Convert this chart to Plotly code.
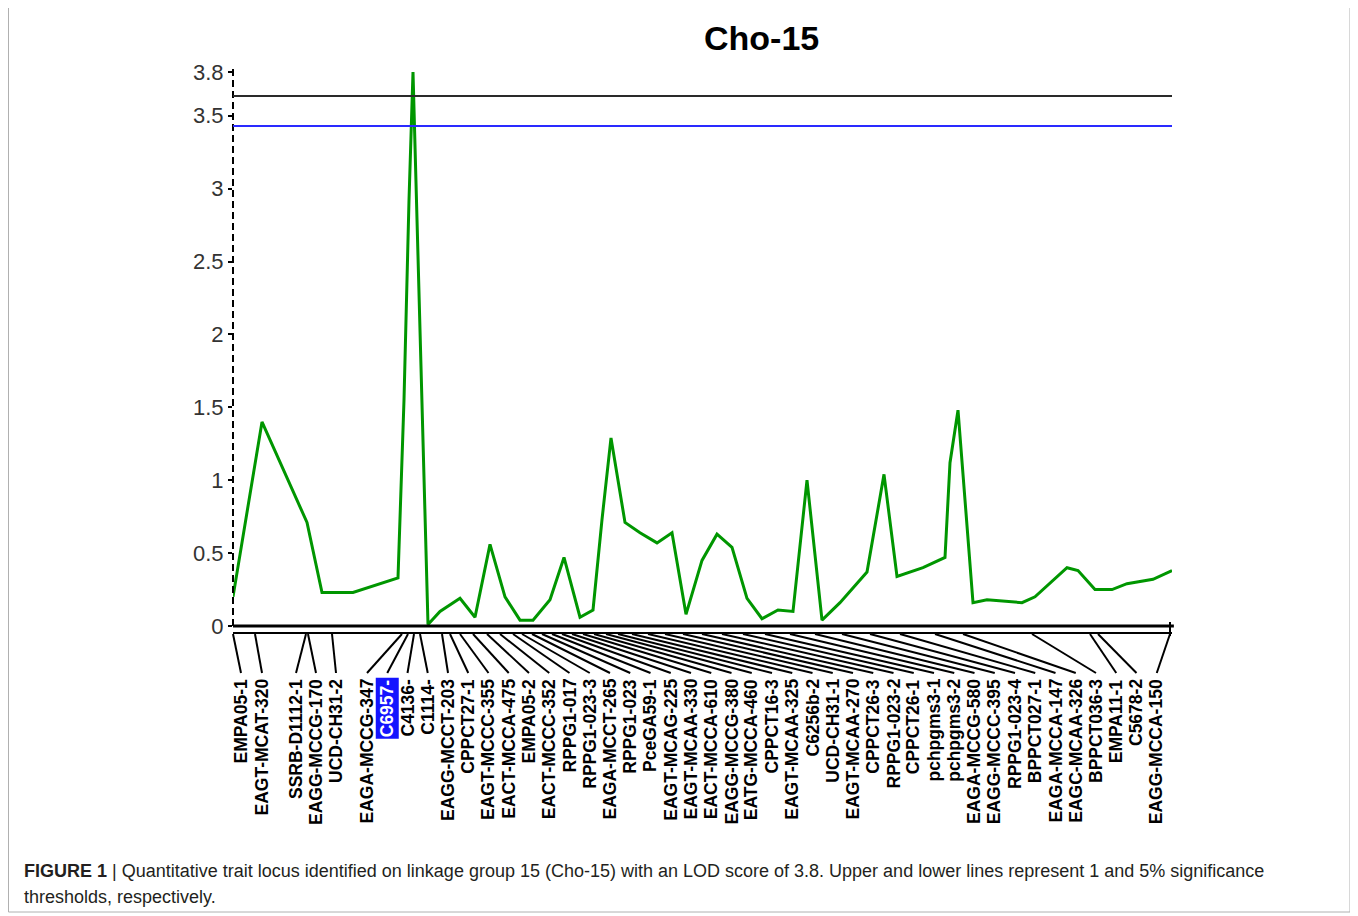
import plotly.graph_objects as go

# ---------------- data ----------------
# LOD profile along linkage group 15 (position in cM, LOD)
pos_cm = [0.0, 2.9, 7.4, 8.9, 12.0, 16.5, 17.1, 17.6, 18.0, 19.5, 20.7, 22.7, 24.2, 25.7,
          27.2, 28.7, 30.0, 31.7, 33.1, 34.7, 36.0, 36.9, 37.8, 39.2, 40.7, 42.4, 43.9,
          45.3, 46.9, 48.4, 49.9, 51.4, 52.9, 54.5, 56.0, 57.4, 58.9, 60.7, 63.4, 65.1,
          66.4, 69.0, 71.2, 71.7, 72.5, 74.0, 75.4, 77.4, 78.9, 80.2, 83.4, 84.5, 86.2,
          87.9, 89.4, 92.0, 93.9]
lod = [0.20, 1.40, 0.71, 0.23, 0.23, 0.33, 1.55, 2.92, 3.80, 0.01, 0.10, 0.19, 0.06, 0.56,
       0.20, 0.04, 0.04, 0.18, 0.47, 0.06, 0.11, 0.73, 1.29, 0.71, 0.64, 0.57, 0.64,
       0.08, 0.45, 0.63, 0.54, 0.19, 0.05, 0.11, 0.10, 1.00, 0.04, 0.16, 0.37, 1.04,
       0.34, 0.40, 0.47, 1.12, 1.48, 0.16, 0.18, 0.17, 0.16, 0.20, 0.40, 0.38, 0.25,
       0.25, 0.29, 0.32, 0.38]

markers = ["EMPA05-1", "EAGT-MCAT-320", "SSRB-D1112-1", "EAGG-MCCG-170", "UCD-CH31-2",
           "EAGA-MCCG-347", "C6957-", "C4136-", "C1114-", "EAGG-MCCT-203", "CPPCT27-1",
           "EAGT-MCCC-355", "EACT-MCCA-475", "EMPA05-2", "EACT-MCCC-352", "RPPG1-017",
           "RPPG1-023-3", "EAGA-MCCT-265", "RPPG1-023", "PceGA59-1", "EAGT-MCAG-225",
           "EAGT-MCAA-330", "EACT-MCCA-610", "EAGG-MCCG-380", "EATG-MCCA-460", "CPPCT16-3",
           "EAGT-MCAA-325", "C6256b-2", "UCD-CH31-1", "EAGT-MCAA-270", "CPPCT26-3",
           "RPPG1-023-2", "CPPCT26-1", "pchpgms3-1", "pchpgms3-2", "EAGA-MCCG-580",
           "EAGG-MCCC-395", "RPPG1-023-4", "BPPCT027-1", "EAGA-MCCA-147", "EAGC-MCAA-326",
           "BPPCT036-3", "EMPA11-1", "C5678-2", "EAGG-MCCA-150"]
marker_cm = [0.0, 2.2, 7.3, 7.5, 9.9, 16.9, 17.5, 18.1, 18.7, 20.9, 21.7, 22.7, 24.0, 25.4,
             26.7, 28.0, 28.9, 29.9, 30.9, 31.9, 32.9, 33.9, 35.0, 36.1, 37.3, 38.5, 39.9,
             41.5, 43.2, 45.0, 46.9, 48.9, 51.0, 53.2, 55.7, 58.2, 60.9, 63.7, 66.7, 70.2,
             73.0, 79.9, 85.7, 86.5, 93.7]
highlight = "C6957-"

thr_1pct = 3.635
thr_5pct = 3.43
ytick_vals = [0, 0.5, 1, 1.5, 2, 2.5, 3, 3.5, 3.8]
ytick_text = ["0", "0.5", "1", "1.5", "2", "2.5", "3", "3.5", "3.8"]

title_text = "Cho-15"
caption_1 = ("<b>FIGURE 1</b> | Quantitative trait locus identified on linkage group 15 (Cho-15) "
             "with an LOD score of 3.8. Upper and lower lines represent 1 and 5% significance")
caption_2 = "thresholds, respectively."

# ---------------- layout geometry (page pixel coordinates) ----------------
OFF = 8                      # default body margin of the html page
W, H = 1350, 908             # figure size so that it fits in the window
PL, PR, PT, PB = 233, 1172, 65, 633
ZERO_PY = 626
PX_PER_UNIT = 145.8
X_END = 93.9
y_lo = -(PB - ZERO_PY) / PX_PER_UNIT
y_hi = (ZERO_PY - PT) / PX_PER_UNIT


def py2paper(py):
    return (PB - py) / (PB - PT)


def px2paper(px):
    return (px - PL) / (PR - PL)


# label slots (text layout): first five follow markers, the rest evenly spread
label_px = [241, 262, 296, 316, 336] + [367 + k * 20.25 for k in range(len(markers) - 5)]

fig = go.Figure()
fig.add_trace(go.Scatter(x=pos_cm, y=lod, mode="lines",
                         line=dict(color="#009600", width=3), hoverinfo="skip"))

shapes = []
shapes.append(dict(type="line", xref="paper", yref="paper", x0=0, x1=0,
                   y0=py2paper(ZERO_PY), y1=1, line=dict(color="black", width=2, dash="7px,4px")))
shapes.append(dict(type="line", xref="paper", yref="y", x0=0, x1=1, y0=thr_1pct, y1=thr_1pct,
                   line=dict(color="#2a2a2a", width=2)))
shapes.append(dict(type="line", xref="paper", yref="y", x0=0, x1=1, y0=thr_5pct, y1=thr_5pct,
                   line=dict(color="#2a2aff", width=2)))
shapes.append(dict(type="line", xref="paper", yref="paper", x0=0, x1=1.002,
                   y0=py2paper(ZERO_PY), y1=py2paper(ZERO_PY), line=dict(color="black", width=3)))
shapes.append(dict(type="line", xref="paper", yref="paper", x0=0, x1=1,
                   y0=py2paper(633), y1=py2paper(633), line=dict(color="black", width=2)))
shapes.append(dict(type="line", xref="paper", yref="paper", x0=px2paper(1170), x1=px2paper(1170),
                   y0=py2paper(622), y1=py2paper(636), line=dict(color="black", width=2)))
for m, lp in zip(marker_cm, label_px):
    shapes.append(dict(type="line", xref="paper", yref="paper",
                       x0=m / X_END, x1=px2paper(lp),
                       y0=py2paper(634), y1=py2paper(673),
                       line=dict(color="black", width=2)))
shapes.append(dict(type="rect", xref="paper", yref="paper",
                   x0=px2paper(OFF + 0.5), x1=px2paper(1350), y0=py2paper(912), y1=py2paper(-5),
                   line=dict(color="#b0b0b0", width=1)))

annotations = []
for name, lp in zip(markers, label_px):
    hl = name == highlight
    annotations.append(dict(
        text=name, xref="paper", yref="paper", x=px2paper(lp), y=py2paper(677),
        xanchor="center", yanchor="top", textangle=-90, showarrow=False,
        font=dict(family="Liberation Sans", size=17.5, color="white" if hl else "black",
                  weight="bold"),
        bgcolor="#1414ff" if hl else "rgba(0,0,0,0)", borderpad=1))

annotations.append(dict(text=title_text, xref="paper", yref="paper", x=px2paper(761),
                        y=py2paper(38), xanchor="center", yanchor="middle", showarrow=False,
                        font=dict(family="Liberation Sans", size=34, color="black", weight="bold")))
annotations.append(dict(text=caption_1, xref="paper", yref="paper", x=px2paper(22),
                        y=py2paper(871), xanchor="left", yanchor="middle", showarrow=False,
                        align="left", font=dict(family="Liberation Sans", size=18, color="#231f20")))
annotations.append(dict(text=caption_2, xref="paper", yref="paper", x=px2paper(22),
                        y=py2paper(897), xanchor="left", yanchor="middle", showarrow=False,
                        align="left", font=dict(family="Liberation Sans", size=18, color="#231f20")))

fig.update_layout(
    width=W, height=H,
    margin=dict(l=PL - OFF, r=W - (PR - OFF), t=PT - OFF, b=H - (PB - OFF), autoexpand=False),
    paper_bgcolor="white", plot_bgcolor="white",
    showlegend=False,
    shapes=shapes, annotations=annotations,
    xaxis=dict(range=[0, X_END], visible=False, automargin=False),
    yaxis=dict(range=[y_lo, y_hi], tickvals=ytick_vals, ticktext=ytick_text,
               ticks="outside", ticklen=4, tickwidth=1.5, tickcolor="black",
               showgrid=False, zeroline=False, showline=False, automargin=False,
               tickfont=dict(family="Liberation Sans", size=22, color="#333333")),
)

fig.write_html("out.html")
